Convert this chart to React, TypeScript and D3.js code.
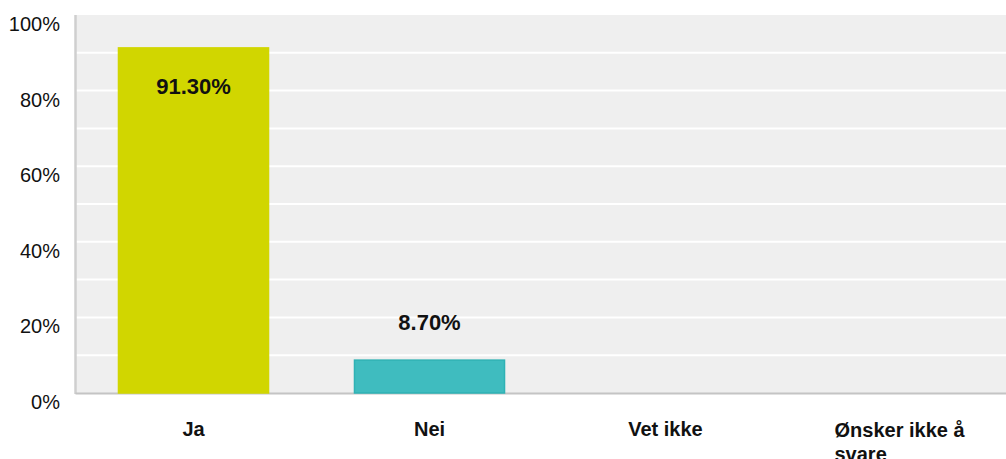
import React from "react";
import * as d3 from "d3";

const categories = ["Ja", "Nei", "Vet ikke", "Ønsker ikke å svare"];
const values = [0.913, 0.087, 0, 0];
const valueLabels = ["91.30%", "8.70%", "", ""];
const barColors = ["#d1d600", "#3fbcbf", "#a7c7e7", "#9e9e9e"];
const barStrokes = ["#d1d600", "#2fb2b5", "#a7c7e7", "#9e9e9e"];
const tickValues = [0, 0.2, 0.4, 0.6, 0.8, 1];
const gridValues = [0.1, 0.2, 0.3, 0.4, 0.5, 0.6, 0.7, 0.8, 0.9];

const W = 1006;
const H = 459;
const left = 75.5;
const right = 1019.5;
const top = 15;
const bottom = 393;
const FONT = "'Liberation Sans', Arial, Helvetica, sans-serif";

export default function App() {
  const x = d3
    .scaleBand<string>()
    .domain(categories)
    .range([left, right])
    .paddingInner(0.36)
    .paddingOuter(0.18);
  const y = d3.scaleLinear().domain([0, 1]).range([bottom, top]);
  const fmt = d3.format(".0%");

  const wrapLabel = (s: string): string[] => {
    if (s.length > 14) {
      const words = s.split(" ");
      return [words.slice(0, 3).join(" "), words.slice(3).join(" ")];
    }
    return [s];
  };

  return (
    <svg
      width={W}
      height={H}
      style={{ position: "absolute", left: 0, top: 0, background: "#fff" }}
    >
      <rect x={left} y={top} width={W - left} height={bottom - top} fill="#efefef" />
      {gridValues.map((g) => (
        <line
          key={g}
          x1={left}
          x2={W}
          y1={y(g)}
          y2={y(g)}
          stroke="#ffffff"
          strokeWidth={2}
        />
      ))}
      <line x1={left} x2={left} y1={top} y2={bottom + 1} stroke="#cfcfcf" strokeWidth={2.5} />
      <line x1={left} x2={W} y1={bottom + 0.5} y2={bottom + 0.5} stroke="#c4c4c4" strokeWidth={2} />
      {tickValues.map((t) => (
        <text
          key={t}
          x={60}
          y={y(t) + 16}
          textAnchor="end"
          fontFamily={FONT}
          fontSize={20}
          fill="#111"
        >
          {fmt(t)}
        </text>
      ))}
      {categories.map((c, i) => {
        const bx = x(c)!;
        const bw = x.bandwidth();
        const v = values[i];
        if (v <= 0) return null;
        return (
          <rect
            key={c}
            x={bx + 0.5}
            y={y(v)}
            width={bw - 1}
            height={bottom - y(v)}
            fill={barColors[i]}
            stroke={barStrokes[i]}
            strokeWidth={1.5}
          />
        );
      })}
      {categories.map((c, i) => {
        const v = values[i];
        if (!valueLabels[i]) return null;
        const cx = x(c)! + x.bandwidth() / 2;
        const inside = v > 0.5;
        const ty = inside ? y(v) + 46 : y(v) - 30;
        return (
          <text
            key={c}
            x={cx}
            y={ty}
            textAnchor="middle"
            fontFamily={FONT}
            fontWeight="bold"
            fontSize={22}
            fill="#111"
          >
            {valueLabels[i]}
          </text>
        );
      })}
      {categories.map((c) => {
        const lines = wrapLabel(c);
        const cx = x(c)! + x.bandwidth() / 2;
        if (lines.length === 1) {
          return (
            <text
              key={c}
              x={cx}
              y={436}
              textAnchor="middle"
              fontFamily={FONT}
              fontWeight="bold"
              fontSize={20}
              fill="#111"
            >
              {c}
            </text>
          );
        }
        const firstW = 134;
        const lx = cx - firstW / 2;
        return (
          <text
            key={c}
            x={lx}
            y={436.5}
            fontFamily={FONT}
            fontWeight="bold"
            fontSize={20}
            fill="#111"
          >
            {lines.map((l, k) => (
              <tspan key={k} x={lx} dy={k === 0 ? 0 : 24}>
                {l}
              </tspan>
            ))}
          </text>
        );
      })}
    </svg>
  );
}
